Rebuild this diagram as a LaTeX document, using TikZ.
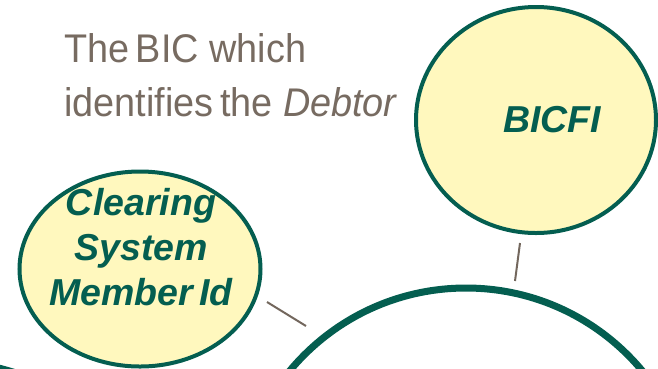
\documentclass[tikz,border=0pt]{standalone}
\usepackage{fontspec}
\setmainfont{Liberation Sans}
\newfontfamily\notefont[FakeStretch=0.945]{Liberation Sans}
\usetikzlibrary{shapes.geometric}
\definecolor{dkgreen}{HTML}{045E50}
\definecolor{paleyellow}{HTML}{FFF8BE}
\definecolor{notegray}{HTML}{776B61}
\definecolor{conngray}{HTML}{73675D}
\tikzset{
  smallball/.style={ellipse, draw=dkgreen, fill=paleyellow, line width=4pt, inner sep=0pt},
  bigball/.style={circle, draw=dkgreen, fill=white, line width=7pt, inner sep=0pt},
  balltext/.style={text=dkgreen, font=\fontsize{37.5}{45}\selectfont\bfseries\itshape, align=center, inner sep=0pt},
  notetext/.style={text=notegray, font=\notefont\fontsize{40}{54}\selectfont, align=left, inner sep=0pt},
  conn/.style={draw=conngray, line width=2pt}
}
\begin{document}
\begin{tikzpicture}[x=1pt,y=-1pt]
\useasboundingbox (0,0) rectangle (658,368);
% partial circle at bottom left
\node[bigball, line width=6pt, minimum size=460pt] (left) at (-56,591) {};
% main circle
\node[bigball, minimum size=458pt] (main) at (466,517) {};
% BICFI
\node[smallball, minimum width=240pt, minimum height=226pt] (bicfi) at (536,120) {};
\node[balltext, anchor=base] (bicfitext) at (552,132) {BICFI};
% Clearing System Member Id
\node[smallball, minimum width=241pt, minimum height=195pt] (csm) at (140,269) {};
\node[balltext, anchor=base] (csmtext) at (141,305) {Clearing\\System\\Member\,Id};
% note
\node[notetext, anchor=base west] (note) at (64,116) {The\,BIC which\\identifies\,the \textit{Debtor}};
% connectors
\coordinate (c1a) at (267,302);
\coordinate (c1b) at (306,326);
\coordinate (c2a) at (520,243);
\coordinate (c2b) at (515,281);
\draw[conn] (c1a) -- (c1b);
\draw[conn] (c2a) -- (c2b);
\end{tikzpicture}
\end{document}
